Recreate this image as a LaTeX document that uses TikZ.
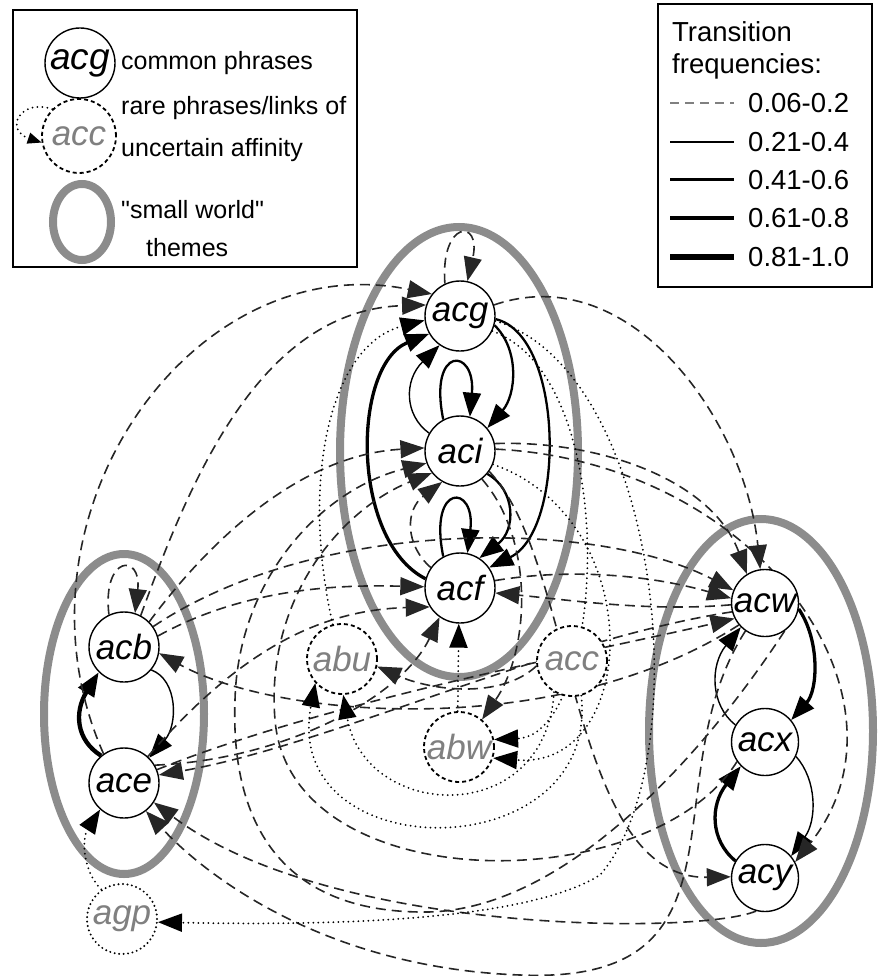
\documentclass[tikz,border=0pt]{standalone}
\usepackage{fontspec}
\setmainfont{Liberation Sans}
\newfontfamily\plainfont{Liberation Sans}
\usetikzlibrary{arrows.meta}
\pgfdeclarelayer{bg}
\pgfdeclarelayer{edges}
\pgfsetlayers{bg,edges,main}
\definecolor{ringc}{RGB}{140,140,140}
\definecolor{faint}{RGB}{128,128,128}
\begin{document}
\begin{tikzpicture}[x=1pt,y=-1pt,
  tip/.style={-{Triangle[length=24pt 0 0,width=18pt 0 0]}},
  nd/.style={circle,draw,line width=1.4pt,fill=white,minimum size=70pt,inner sep=0pt,font=\itshape\fontsize{35}{40}\selectfont},
  rnd/.style={nd,dash pattern=on 4pt off 3pt,line width=1.8pt,text=faint},
  pnd/.style={nd,dash pattern=on 0pt off 4.5pt,line cap=round,line width=2.2pt,text=faint},
  ringst/.style={draw=ringc,line width=8pt},
  e1/.style={line width=1.4pt,tip},
  e2/.style={line width=2.3pt,tip},
  e3/.style={line width=3.3pt,tip},
  e4/.style={line width=4.3pt,tip},
  dsh/.style={line width=1.6pt,dash pattern=on 10pt off 6pt,draw=black!85,tip},
  dtt/.style={line width=2pt,dash pattern=on 0pt off 5pt,line cap=round,tip},
  lgt/.style={anchor=west,inner sep=0pt,font=\fontsize{25}{28}\selectfont},
  rgt/.style={anchor=west,inner sep=0pt,font=\fontsize{27.5}{32}\selectfont},
  lbox/.style={draw,line width=1.5pt}
]
\useasboundingbox (0,0) rectangle (878,976);

% ---------------- legends ----------------
\draw[lbox] (13,10) rectangle (357,267);
\node[nd,font=\itshape\fontsize{37}{40}\selectfont] (lacg) at (80,63) {acg};
\node[lgt] (l1) at (121,63) {common phrases};
\node[rnd,minimum size=74pt] (lacc) at (79,136) {acc};
\draw[dtt,-{Triangle[length=14pt 0 0,width=11pt 0 0]}] (lacc.135) .. controls (20,98) and (4,130) .. (lacc.190);
\node[lgt] (l2) at (121,108) {rare phrases/links of};
\node[lgt] (l3) at (121,150) {uncertain affinity};
\draw[ringst] (82,222) ellipse [x radius=29, y radius=38];
\node[lgt] (l4) at (121,210) {\plainfont "small world"};
\node[lgt] (l5) at (146,248) {themes};

\draw[lbox] (658,4) rectangle (872,287);
\node[rgt] (r0) at (672,32) {Transition};
\node[rgt] (r00) at (672,66) {frequencies:};
\node[rgt] (r1) at (748,103) {0.06-0.2};
\node[rgt] (r2) at (748,142) {0.21-0.4};
\node[rgt] (r3) at (748,180) {0.41-0.6};
\node[rgt] (r4) at (748,218) {0.61-0.8};
\node[rgt] (r5) at (748,257) {0.81-1.0};
\draw[line width=1.2pt,draw=gray,dash pattern=on 9pt off 6pt] (670,103) -- (734,103);
\draw[line width=1.6pt] (670,142) -- (734,142);
\draw[line width=3pt] (670,180) -- (734,180);
\draw[line width=4.3pt] (670,218) -- (734,218);
\draw[line width=5.5pt] (670,257) -- (734,257);

% ---------------- themes ----------------
\begin{pgfonlayer}{bg}
\draw[ringst] (459,452) ellipse [x radius=119, y radius=225];
\draw[ringst] (124,714) ellipse [x radius=80, y radius=160];
\draw[ringst] (761,731) ellipse [x radius=112, y radius=212];
\end{pgfonlayer}

% ---------------- nodes ----------------
\node[nd] (acg) at (460,316) {acg};
\node[nd] (aci) at (460,451) {aci};
\node[nd] (acf) at (460,588) {acf};
\node[nd] (acb) at (124,647) {acb};
\node[nd] (ace) at (124,783) {ace};
\node[pnd] (agp) at (122,919) {agp};
\node[nd,minimum size=67pt] (acw) at (765,603) {acw};
\node[nd,minimum size=67pt] (acx) at (765,742) {acx};
\node[nd,minimum size=67pt] (acy) at (765,878) {acy};
\node[rnd] (abu) at (342,659) {abu};
\node[rnd] (acc) at (572,661) {acc};
\node[rnd] (abw) at (459,747) {abw};

% ---------------- edges ----------------
\begin{pgfonlayer}{edges}
% central theme
\draw[e2] (acg.-15) .. controls (520,350) and (516,395) .. (aci.40);
\draw[e2] (aci.118) .. controls (428,345) and (476,347) .. (aci.74);
\draw[e1] (aci.150) .. controls (404,415) and (404,380) .. (acg.235);
\draw[e3] (acf.165) .. controls (350,540) and (352,365) .. (acg.210);
\draw[e2] (acg.-5) .. controls (564,335) and (566,530) .. (acf.35);
\draw[e2] (aci.-40) .. controls (516,490) and (516,530) .. (acf.57);
\draw[e2] (acf.118) .. controls (428,482) and (476,484) .. (acf.78);
\draw[dsh] (acg.115) .. controls (440,220) and (482,218) .. (acg.78);
\draw[dsh] (acf.145) .. controls (405,545) and (405,510) .. (aci.240);
% left theme
\draw[e4] (ace.130) .. controls (76,740) and (74,712) .. (acb.225);
\draw[e1] (acb.-40) .. controls (178,680) and (178,725) .. (ace.45);
\draw[dsh] (acb.115) .. controls (102,555) and (142,553) .. (acb.72);
% right theme
\draw[e3] (acw.-10) .. controls (820,640) and (818,690) .. (acx.40);
\draw[e1] (acx.150) .. controls (710,705) and (710,665) .. (acw.225);
\draw[e1] (acx.-25) .. controls (817,780) and (817,820) .. (acy.40);
\draw[e3] (acy.150) .. controls (710,840) and (710,805) .. (acx.225);
% long dashed links
\draw[dsh] (ace.125) .. controls (0,520) and (190,245) .. (acg.142);
\draw[dsh] (acb.62) .. controls (190,480) and (260,310) .. (acg.162);
\draw[dsh] (acb.45) .. controls (210,540) and (300,455) .. (aci.175);
\draw[dsh] (acw.-55) .. controls (700,760) and (560,915) .. (420,912)
   .. controls (250,910) and (232,780) .. (235,700)
   .. controls (238,580) and (320,490) .. (aci.200);
\draw[dsh] (acx.215) .. controls (650,900) and (290,900) .. (275,720)
   .. controls (265,600) and (340,510) .. (aci.218);
\draw[dsh] (acg.18) .. controls (630,258) and (745,420) .. (acw.98);
\draw[dsh] (aci.12) .. controls (600,440) and (712,480) .. (acw.122);
\draw[dsh] (aci.3) .. controls (760,462) and (925,700) .. (acy.28);
\draw[dsh] (aci.-35) .. controls (575,560) and (570,880) .. (acy.178);
\draw[dsh] (aci.-52) .. controls (535,540) and (530,650) .. (abw.50);
\draw[dsh] (acb.35) .. controls (320,515) and (600,520) .. (acw.158);
\draw[dsh] (acw.195) .. controls (550,640) and (330,745) .. (ace.13);
\draw[dsh] (acb.18) .. controls (250,585) and (350,585) .. (acf.178);
\draw[dsh] (acw.183) .. controls (650,612) and (570,600) .. (acf.-8);
\draw[dsh] (acf.12) .. controls (570,568) and (650,575) .. (acw.172);
\draw[dsh] (acw.220) .. controls (560,740) and (280,720) .. (acb.-10);
\draw[dsh] (ace.48) .. controls (240,650) and (320,610) .. (acf.212);
\draw[dsh] (ace.30) .. controls (280,760) and (400,700) .. (acf.235);
\draw[dsh] (ace.22) .. controls (330,700) and (600,650) .. (acw.207);
\draw[dsh] (acw.235) .. controls (650,780) and (760,985) .. (520,975)
   .. controls (330,968) and (210,880) .. (ace.-52);
\draw[dsh] (acy.255) .. controls (700,935) and (330,935) .. (ace.-33);
\draw[dsh] (acc.188) .. controls (500,700) and (430,690) .. (abu.-12);
% dotted links
\draw[dtt] (abu.105) .. controls (300,480) and (330,345) .. (acg.187);
\draw[dtt] (acg.-25) .. controls (625,380) and (605,735) .. (abw.12);
\draw[dtt] (aci.-22) .. controls (650,520) and (640,770) .. (abw.-18);
\draw[dtt] (acg.-8) .. controls (660,370) and (700,760) .. (600,875)
   .. controls (520,925) and (300,925) .. (agp.-5);
\draw[dtt] (agp.125) .. controls (82,870) and (82,838) .. (ace.228);
\draw[dtt] (acc.-75) .. controls (600,870) and (280,870) .. (abu.222);
\draw[dtt] (acc.240) .. controls (545,830) and (365,820) .. (abu.272);
\draw[dtt] (abw.92) -- (acf.268);
\end{pgfonlayer}
\end{tikzpicture}
\end{document}
